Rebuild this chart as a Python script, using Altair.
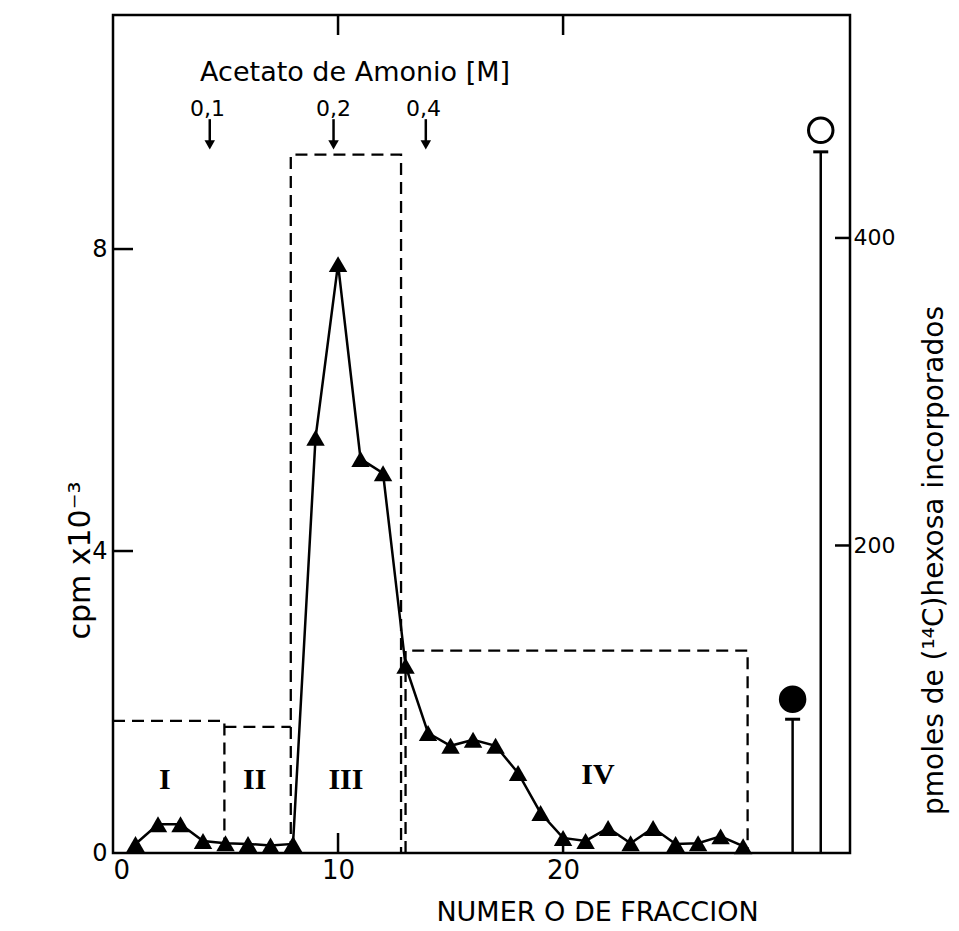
import altair as alt
import pandas as pd

# ---- data ----
fractions = list(range(1, 29))
cpm = [0.12, 0.38, 0.38, 0.16, 0.13, 0.12, 0.10, 0.12, 5.50, 7.80,
       5.22, 5.03, 2.48, 1.59, 1.42, 1.50, 1.42, 1.06, 0.53, 0.20,
       0.16, 0.33, 0.13, 0.33, 0.12, 0.13, 0.22, 0.09]

box_id = ["I", "I", "I", "II", "II", "III", "III", "III", "III", "IV", "IV", "IV", "IV"]
box_x = [0, 4.95, 4.95, 4.95, 7.9, 7.9, 7.9, 12.8, 12.8, 13.0, 13.0, 28.2, 28.2]
box_y = [1.75, 1.75, 0, 1.67, 1.67, 0, 9.25, 9.25, 0, 0, 2.68, 2.68, 0]

roman = ["I", "II", "III", "IV"]
roman_x = [2.3, 6.3, 10.35, 21.55]
roman_y = [0.97, 0.97, 0.97, 1.03]

molar = ["0,1", "0,2", "0,4"]
molar_x = [4.2, 9.8, 13.8]
molar_y = [9.85, 9.85, 9.85]
arrow_x = [4.3, 9.8, 13.9]
arrow_top = [9.72, 9.72, 9.72]
arrow_tip = [9.38, 9.38, 9.38]

title_text = ["Acetato de Amonio [M]"]
title_x = [3.87]
title_y = [10.33]

ctrl_x = [30.2, 31.45]
ctrl_pmol = [100, 470]
ctrl_stem_top = [87, 456]
ctrl_kind = ["filled", "open"]

x_ticks = [10, 20]
left_ticks = [4, 8]
right_ticks = [200, 400]

X_MAX = 32.75
Y_MAX = 11.1
P_MAX = 545

FONT = "DejaVu Sans"

xs = alt.Scale(domain=[0, X_MAX], nice=False, zero=False)
ys = alt.Scale(domain=[0, Y_MAX], nice=False, zero=False)
ps = alt.Scale(domain=[0, P_MAX], nice=False, zero=False)

profile = pd.DataFrame({"fraction": fractions, "cpm": cpm})
boxes = pd.DataFrame({"box": box_id, "x": box_x, "y": box_y, "o": list(range(len(box_x)))})
romans = pd.DataFrame({"t": roman, "x": roman_x, "y": roman_y})
molars = pd.DataFrame({"t": molar, "x": molar_x, "y": molar_y,
                       "ax": arrow_x, "top": arrow_top, "tip": arrow_tip})
ttl = pd.DataFrame({"t": title_text, "x": title_x, "y": title_y})
ctrl = pd.DataFrame({"x": ctrl_x, "p": ctrl_pmol, "s": ctrl_stem_top, "k": ctrl_kind})
xt = pd.DataFrame({"x": x_ticks})
lt = pd.DataFrame({"y": left_ticks})
rt = pd.DataFrame({"y": right_ticks})

x_axis = alt.Axis(orient="bottom", values=[0, 10, 20], tickSize=0, domain=False, grid=False,
                  labelFontSize=26, labelFont=FONT, labelColor="black", labelPadding=4,
                  title="NUMER O DE FRACCION", titleFont=FONT, titleFontSize=27,
                  titleFontWeight="normal", titleColor="black",
                  titleX=484, titleY=67, titleAlign="center", titleBaseline="alphabetic")
y_axis = alt.Axis(orient="left", values=[0, 4, 8], tickSize=0, domain=False, grid=False,
                  labelFontSize=24, labelFont=FONT, labelColor="black", labelPadding=6,
                  title="cpm  x10⁻³", titleFont=FONT, titleFontSize=30,
                  titleFontWeight="normal", titleColor="black", titleAngle=270,
                  titleX=-33, titleY=545, titleAlign="center", titleBaseline="middle")
p_axis = alt.Axis(orient="right", values=[200, 400], tickSize=0, domain=False, grid=False,
                  labelFontSize=22, labelFont=FONT, labelColor="black", labelPadding=3,
                  title="pmoles de (¹⁴C)hexosa incorporados", titleFont=FONT,
                  titleFontSize=28, titleFontWeight="normal", titleColor="black",
                  titleAngle=270, titleX=84, titleY=545, titleAlign="center",
                  titleBaseline="middle")


def X(field):
    return alt.X(field, scale=xs, axis=x_axis)


line = alt.Chart(profile).mark_line(color="black", strokeWidth=2.5).encode(
    x=X("fraction:Q"),
    y=alt.Y("cpm:Q", scale=ys, axis=y_axis))
tri = alt.Chart(profile).mark_point(shape="triangle-up", filled=True, size=340,
                                    color="black", opacity=1).encode(
    x=X("fraction:Q"),
    y=alt.Y("cpm:Q", scale=ys, axis=None))
box = alt.Chart(boxes).mark_line(color="black", strokeWidth=2.3, strokeDash=[12, 7]).encode(
    x=X("x:Q"),
    y=alt.Y("y:Q", scale=ys, axis=None),
    detail="box:N", order="o:Q")
rom = alt.Chart(romans).mark_text(font="Liberation Serif", fontWeight="bold", fontSize=30,
                                  color="black", baseline="middle").encode(
    x=X("x:Q"),
    y=alt.Y("y:Q", scale=ys, axis=None), text="t:N")
mol = alt.Chart(molars).mark_text(font=FONT, fontSize=22, color="black",
                                  baseline="middle").encode(
    x=X("x:Q"),
    y=alt.Y("y:Q", scale=ys, axis=None), text="t:N")
arr = alt.Chart(molars).mark_rule(color="black", strokeWidth=2.5).encode(
    x=X("ax:Q"),
    y=alt.Y("top:Q", scale=ys, axis=None), y2="tip:Q")
head = alt.Chart(molars).mark_point(shape="triangle-down", filled=True, size=110,
                                    color="black", opacity=1).encode(
    x=X("ax:Q"),
    y=alt.Y("tip:Q", scale=ys, axis=None))
tt = alt.Chart(ttl).mark_text(font=FONT, fontSize=27, color="black", align="left",
                              baseline="middle").encode(
    x=X("x:Q"),
    y=alt.Y("y:Q", scale=ys, axis=None), text="t:N")
bt = alt.Chart(xt).transform_calculate(yy="0").mark_point(
    shape="M0,0L0,-2", size=400, color="black", strokeWidth=2.5, opacity=1).encode(
    x=X("x:Q"),
    y=alt.Y("yy:Q", scale=ys, axis=None))
tp = alt.Chart(xt).transform_calculate(yy=str(Y_MAX)).mark_point(
    shape="M0,0L0,2", size=400, color="black", strokeWidth=2.5, opacity=1).encode(
    x=X("x:Q"),
    y=alt.Y("yy:Q", scale=ys, axis=None))
lk = alt.Chart(lt).transform_calculate(xx="0").mark_point(
    shape="M0,0L2,0", size=400, color="black", strokeWidth=2.5, opacity=1).encode(
    x=X("xx:Q"),
    y=alt.Y("y:Q", scale=ys, axis=None))

stem = alt.Chart(ctrl).transform_calculate(zero="0").mark_rule(
    color="black", strokeWidth=2.5).encode(
    x=X("x:Q"),
    y=alt.Y("s:Q", scale=ps, axis=p_axis), y2="zero:Q")
cap = alt.Chart(ctrl).mark_point(shape="M-1,0L1,0", size=225, color="black",
                                 strokeWidth=3, opacity=1).encode(
    x=X("x:Q"),
    y=alt.Y("s:Q", scale=ps, axis=None))
dot = alt.Chart(ctrl).mark_point(shape="circle", size=600, opacity=1, strokeWidth=3,
                                 stroke="black").encode(
    x=X("x:Q"),
    y=alt.Y("p:Q", scale=ps, axis=None),
    fill=alt.Fill("k:N", scale=alt.Scale(domain=["filled", "open"], range=["black", "white"]), legend=None))
rk = alt.Chart(rt).transform_calculate(xx=str(X_MAX)).mark_point(
    shape="M0,0L-2,0", size=225, color="black", strokeWidth=2.5, opacity=1).encode(
    x=X("xx:Q"),
    y=alt.Y("y:Q", scale=ps, axis=None))

chart = alt.layer(line, stem, box, tri, rom, mol, arr, head, tt, bt, tp, lk, cap, dot, rk
                  ).resolve_scale(y="independent").properties(
    width=737, height=838,
    autosize=alt.AutoSizeParams(type="none"),
    padding={"left": 105, "top": 7, "right": 101, "bottom": 76},
    background="white",
).configure_view(stroke="black", strokeWidth=2.5)

chart.save("out.html", embed_options={"renderer": "svg", "actions": False})
